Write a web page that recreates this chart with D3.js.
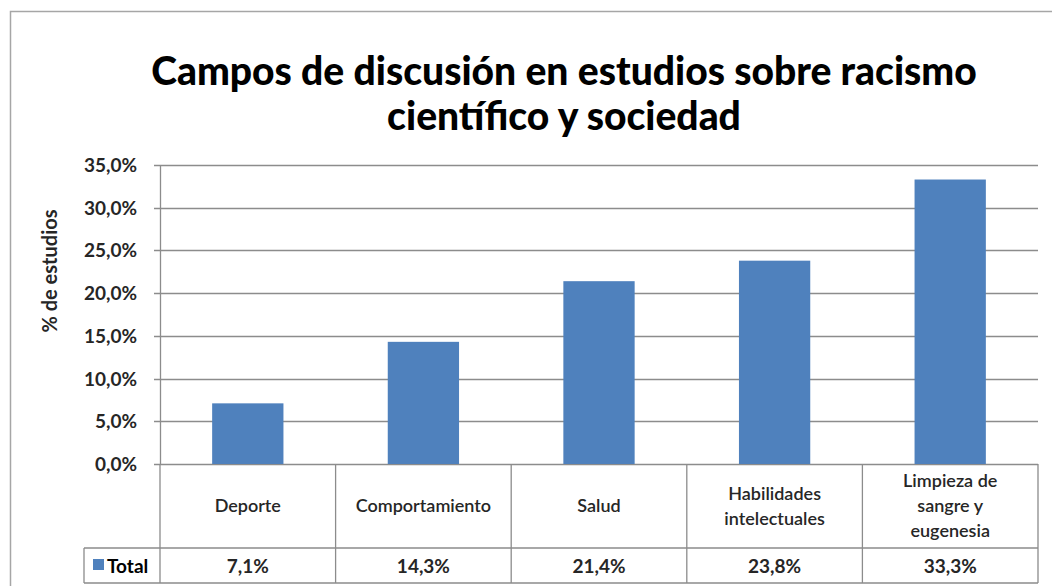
<!DOCTYPE html>
<html>
<head>
<meta charset="utf-8">
<script src="https://cdn.jsdelivr.net/npm/d3@7"></script>
<style>
  body { margin: 0; background: #fff; }
  svg text { font-family: Lato, "Open Sans", sans-serif; }
</style>
</head>
<body>
<script>
const categories = ['Deporte', 'Comportamiento', 'Salud', 'Habilidades intelectuales', 'Limpieza de sangre y eugenesia']
const catLines = [['Deporte'], ['Comportamiento'], ['Salud'], ['Habilidades', 'intelectuales'], ['Limpieza de', 'sangre y', 'eugenesia']]
const values = [7.1, 14.3, 21.4, 23.8, 33.3]
const yTicks = [0, 5, 10, 15, 20, 25, 30, 35]
const seriesName = 'Total'
const titleLines = ['Campos de discusión en estudios sobre racismo', 'científico y sociedad']

const W = 1052, H = 586
const plot = { left: 160, right: 1038, top: 165, bottom: 464 }
const rowDiv = 548, tableBottom = 583, legendLeft = 84
const barColor = '#4f81bd', gridColor = '#8c8c8c'

const fmt = v => v.toFixed(1).replace('.', ',') + '%'

const svg = d3.select('body').append('svg')
    .attr('width', W)
    .attr('height', H)

// frame
svg.append('path')
    .attr('d', 'M10.5,' + H + ' V11.5 H' + W)
    .attr('fill', 'none')
    .attr('stroke', '#a6a6a6')
    .attr('stroke-width', 1.5)

// title
svg.append('g').selectAll('text')
    .data(titleLines)
    .join('text')
    .attr('x', 564)
    .attr('y', (d, i) => 85 + i * 45)
    .attr('text-anchor', 'middle')
    .style('font-size', '39px')
    .style('font-weight', '900')
    .attr('fill', '#000')
    .text(d => d)

const x = d3.scaleBand()
    .domain(categories)
    .range([plot.left, plot.right])
    .paddingInner(0.594)
    .paddingOuter(0.297)

const y = d3.scaleLinear()
    .domain([0, 35])
    .range([plot.bottom, plot.top])

// gridlines
svg.append('g').selectAll('line')
    .data(yTicks)
    .join('line')
    .attr('x1', plot.left - 6)
    .attr('x2', plot.right)
    .attr('y1', d => Math.round(y(d)) + 0.5)
    .attr('y2', d => Math.round(y(d)) + 0.5)
    .attr('stroke', gridColor)
    .attr('stroke-width', 1.3)

// y axis line
svg.append('line')
    .attr('x1', plot.left + 0.5).attr('x2', plot.left + 0.5)
    .attr('y1', plot.top).attr('y2', plot.bottom)
    .attr('stroke', gridColor)
    .attr('stroke-width', 1.3)

// tick labels
svg.append('g').selectAll('text')
    .data(yTicks)
    .join('text')
    .attr('x', 137)
    .attr('y', d => y(d) + 7)
    .attr('text-anchor', 'end')
    .style('font-size', '19px')
    .style('font-weight', 'bold')
    .attr('fill', '#262626')
    .text(fmt)

// axis title
svg.append('text')
    .attr('transform', 'translate(57,271) rotate(-90)')
    .attr('text-anchor', 'middle')
    .style('font-size', '20px')
    .style('font-weight', 'bold')
    .attr('fill', '#262626')
    .text('% de estudios')

// bars
svg.append('g').selectAll('rect')
    .data(values)
    .join('rect')
    .attr('x', (d, i) => x(categories[i]))
    .attr('y', d => y(d))
    .attr('width', x.bandwidth())
    .attr('height', d => y(0) - y(d))
    .attr('fill', barColor)

// data table
const table = svg.append('g')
    .attr('fill', 'none')
    .attr('stroke', gridColor)
    .attr('stroke-width', 1.3)

table.append('path')
    .attr('d', 'M' + legendLeft + ',' + rowDiv + ' H' + plot.right +
        ' M' + legendLeft + ',' + tableBottom + ' H' + plot.right +
        ' M' + legendLeft + ',' + rowDiv + ' V' + tableBottom +
        ' M' + plot.right + ',' + plot.bottom + ' V' + tableBottom +
        ' M' + plot.left + ',' + plot.bottom + ' V' + tableBottom)

table.selectAll('line.div')
    .data(categories.slice(1))
    .join('line')
    .attr('class', 'div')
    .attr('x1', d => x(d) - x.step() * x.paddingInner() / 2)
    .attr('x2', d => x(d) - x.step() * x.paddingInner() / 2)
    .attr('y1', plot.bottom)
    .attr('y2', tableBottom)

const mid = d => x(d) + x.bandwidth() / 2

// category labels
const catG = svg.append('g').selectAll('text')
    .data(categories)
    .join('text')
    .attr('text-anchor', 'middle')
    .style('font-size', '18px')
    .style('font-weight', '600')
    .attr('fill', '#262626')

catG.each(function(d, i) {
    const lines = catLines[i]
    const cy = (plot.bottom + rowDiv) / 2 + 6 - (lines.length - 1) * 12.5
    d3.select(this).selectAll('tspan')
        .data(lines)
        .join('tspan')
        .attr('x', mid(d))
        .attr('y', (l, j) => cy + j * 25)
        .text(l => l)
})

// value row
svg.append('g').selectAll('text')
    .data(values)
    .join('text')
    .attr('x', (d, i) => mid(categories[i]))
    .attr('y', (rowDiv + tableBottom) / 2 + 7)
    .attr('text-anchor', 'middle')
    .style('font-size', '19px')
    .style('font-weight', 'bold')
    .attr('fill', '#262626')
    .text(fmt)

// legend key
svg.append('rect')
    .attr('x', 93).attr('y', 559)
    .attr('width', 11).attr('height', 11)
    .attr('fill', barColor)

svg.append('text')
    .attr('x', 107)
    .attr('y', (rowDiv + tableBottom) / 2 + 7)
    .style('font-size', '19px')
    .style('font-weight', 'bold')
    .attr('fill', '#000')
    .text(seriesName)
</script>
</body>
</html>
